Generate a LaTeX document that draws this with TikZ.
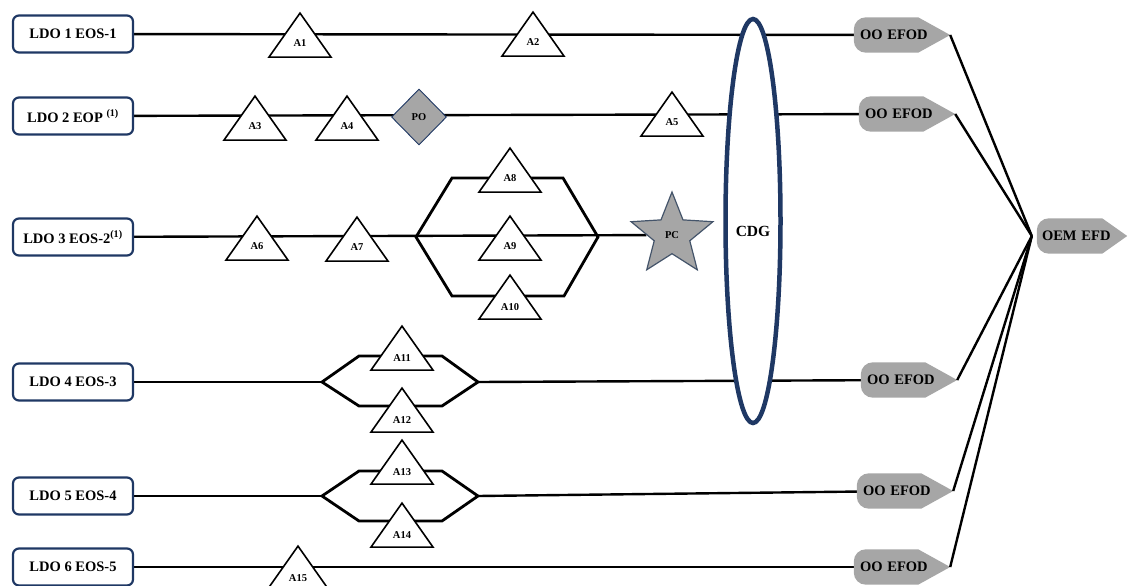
\documentclass[tikz,border=0pt]{standalone}
\usepackage{fontspec}
\setmainfont{Liberation Serif}
\usepackage{tikz}
\usetikzlibrary{positioning, shapes.geometric, shapes.misc, backgrounds}
\definecolor{navy}{HTML}{1F3864}
\definecolor{efodgray}{HTML}{A6A6A6}
\definecolor{slate}{HTML}{44546A}

\begin{document}
\begin{tikzpicture}[x=1pt, y=-1pt,
  ldo/.style={draw=navy, line width=2.2pt, rounded corners=6pt, fill=white,
    minimum width=120pt, minimum height=37pt, inner sep=0pt,
    font=\fontsize{14.5}{16}\selectfont\bfseries},
  tri/.style={isosceles triangle, isosceles triangle stretches,
    shape border rotate=90, minimum width=62pt, minimum height=44pt,
    inner sep=0pt, draw, line width=1.6pt, fill=white, anchor=apex,
    font=\fontsize{10.5}{11}\selectfont\bfseries},
  efod/.style={text width=84pt, align=left, inner xsep=6pt, inner ysep=0pt,
    minimum height=35pt, font=\fontsize{14.5}{16}\selectfont\bfseries},
  link/.style={line width=2.4pt},
  fork/.style={line width=2.8pt, line join=miter}]
\useasboundingbox (0,0) rectangle (1128,586);

\node[ldo] (ldo1) at (73,34)  {LDO 1 EOS-1};
\node[ldo] (ldo2) at (73,116) {LDO 2 EOP \textsuperscript{(1)}};
\node[ldo] (ldo3) at (73,237) {LDO 3 EOS-2\textsuperscript{(1)}};
\node[ldo] (ldo4) at (73,382) {LDO 4 EOS-3};
\node[ldo] (ldo5) at (73,496) {LDO 5 EOS-4};
\node[ldo] (ldo6) at (73,567) {LDO 6 EOS-5};

\node[tri] (a1)  at (300,11)  {A1};
\node[tri] (a2)  at (533,10)  {A2};
\node[tri] (a3)  at (255,94)  {A3};
\node[tri] (a4)  at (347,94)  {A4};
\node[tri] (a5)  at (672,90)  {A5};
\node[tri] (a6)  at (257,214) {A6};
\node[tri] (a7)  at (357,215) {A7};
\node[tri] (a8)  at (510,146) {A8};
\node[tri] (a9)  at (510,214) {A9};
\node[tri] (a10) at (510,273) {A10};
\node[tri] (a11) at (402,324) {A11};
\node[tri] (a12) at (402,386) {A12};
\node[tri] (a13) at (402,438) {A13};
\node[tri] (a14) at (402,501) {A14};
\node[tri] (a15) at (298,544) {A15};

\node[diamond, draw=navy, line width=0.9pt, fill=efodgray, minimum width=55pt,
  minimum height=56pt, inner sep=0pt, font=\fontsize{10.5}{11}\selectfont\bfseries]
  (po) at (419,117) {PO};
\node[star, star points=5, star point ratio=2.3, minimum size=86pt, inner sep=0pt,
  draw=slate, line width=1.2pt, fill=efodgray,
  font=\fontsize{10.5}{11}\selectfont\bfseries] (pc) at (672,235) {PC};
\node[ellipse, draw=navy, line width=4.5pt, fill=white, minimum width=55pt,
  minimum height=404pt, inner sep=0pt, text height=30pt, text depth=0pt,
  font=\fontsize{15.5}{17}\selectfont\bfseries] (cdg) at (753,221) {CDG};

\node[efod] (e1) at (902,35)  {OO EFOD};
\node[efod] (e2) at (907,114) {OO EFOD};
\node[efod] (e4) at (909,380) {OO EFOD};
\node[efod] (e5) at (905,491) {OO EFOD};
\node[efod] (e6) at (902,567) {OO EFOD};
\node[efod, text width=80pt, inner xsep=5pt] (oem) at (1082,236) {OEM EFD};

\coordinate (h3l) at (416,237);
\coordinate (h3r) at (598,237);
\coordinate (h4l) at (322,382);
\coordinate (h4r) at (478,382);
\coordinate (h5l) at (322,496);
\coordinate (h5r) at (478,496);

\begin{scope}[on background layer]
\draw[link] (ldo1) -- (e1);
\draw[link] (ldo2) -- (e2);
\draw[link] (ldo3) -- (pc);
\draw[link] (ldo4) -- (h4l);
\draw[link] (h4r) -- (e4);
\draw[link] (ldo5) -- (h5l);
\draw[link] (h5r) -- (e5);
\draw[link] (ldo6) -- (e6);

\draw[fork] (h3l) -- (452,178) -- (563,178) -- (h3r) -- (564,296) -- (452,296) -- cycle;
\draw[fork] (h4l) -- (359,356) -- (442,356) -- (h4r) -- (442,406) -- (359,406) -- cycle;
\draw[fork] (h5l) -- (359,471) -- (442,471) -- (h5r) -- (442,521) -- (359,521) -- cycle;

\foreach \e in {e1,e2,e4,e5,e6}
  \fill[efodgray] (\e.east) -- ([xshift=-32pt]\e.south east)
    [rounded corners=12pt] -- (\e.south west) -- (\e.north west)
    [sharp corners] -- ([xshift=-32pt]\e.north east) -- cycle;
\fill[efodgray] (oem.east) -- ([xshift=-25pt]oem.south east)
    [rounded corners=12pt] -- (oem.south west) -- (oem.north west)
    [sharp corners] -- ([xshift=-25pt]oem.north east) -- cycle;

\foreach \e in {e1,e2,e4,e5,e6}
  \draw[link] (\e.east) -- ([xshift=-5pt]oem.west);
\end{scope}
\end{tikzpicture}
\end{document}
